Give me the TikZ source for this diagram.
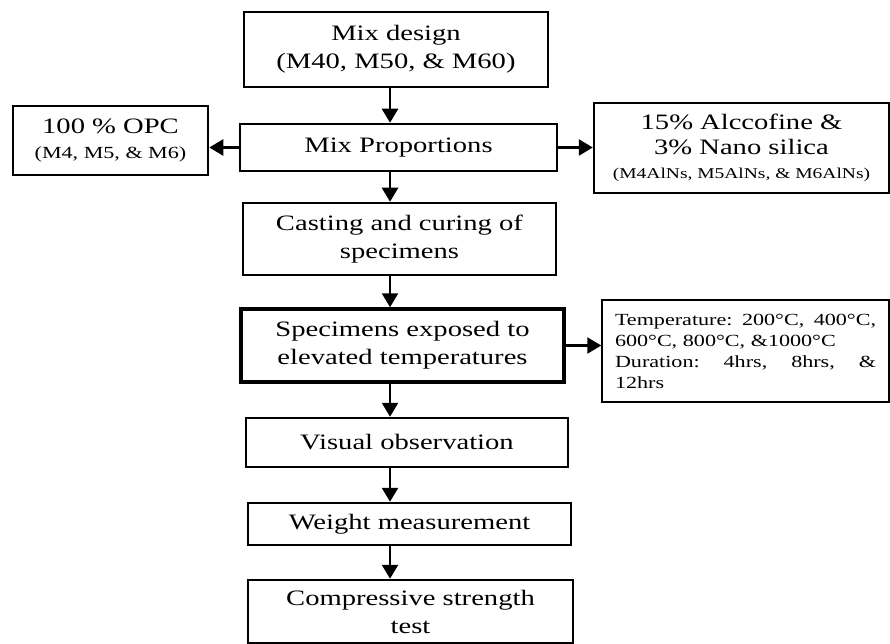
\documentclass[tikz,border=0pt]{standalone}
\usepackage{fontspec}
\setmainfont{Liberation Serif}[FakeStretch=1.3]
\usetikzlibrary{arrows.meta}

\begin{document}
\begin{tikzpicture}[x=1pt,y=-1pt]
    \useasboundingbox (0,0) rectangle (890,644);
        \begin{scope}[
            every node/.style={draw=black,line width=2.5pt,inner sep=0pt,align=center,font=\fontsize{22}{28}\selectfont}
        ]
            \node[minimum width=304pt,minimum height=75pt] (MD) at (396,49.5) {Mix design\\(M40, M50, \& M60)};
            \node[minimum width=317pt,minimum height=47pt] (MP) at (398.5,147.5) {Mix Proportions};
            \node[minimum width=195pt,minimum height=69pt] (OPC) at (110.5,140.5) {100 \% OPC\\[-3pt]{\fontsize{17}{22}\selectfont (M4, M5, \& M6)}};
            \node[minimum width=295pt,minimum height=90pt] (ALC) at (741.5,148) {15\% Alccofine \&\\[-3pt]3\% Nano silica\\[-4pt]{\fontsize{15}{20}\selectfont (M4AlNs, M5AlNs, \& M6AlNs)}};
            \node[minimum width=313pt,minimum height=72pt] (CC) at (399.5,239) {Casting and curing of\\specimens};
            \node[minimum width=323pt,minimum height=73pt,line width=3.5pt] (SE) at (402.5,345.5) {Specimens exposed to\\elevated temperatures};
            \node[minimum width=287pt,minimum height=102pt,line width=1.5pt,inner xsep=13pt,text width=261pt,align=left,font=\fontsize{17}{21}\selectfont] (TD) at (745.5,351)
                {\makebox[261pt][l]{Temperature:\hfill 200°C,\hfill 400°C,}\\600°C, 800°C, \&1000°C\\\makebox[261pt][l]{Duration:\hfill 4hrs,\hfill 8hrs,\hfill \&}\\12hrs};
            \node[minimum width=322pt,minimum height=49pt] (VO) at (407,442.5) {Visual observation};
            \node[minimum width=323pt,minimum height=42pt] (WM) at (409.5,524) {Weight measurement};
            \node[minimum width=325pt,minimum height=63pt] (CS) at (410.5,611.5) {Compressive strength\\test};
        \end{scope}
        \begin{scope}[
            every edge/.style={draw=black,line width=2.5pt,-{Triangle[length=14pt,width=16pt]}}
        ]
            \coordinate (col) at (390,0);
            \path (MD.south -| col) edge (MP.north -| col);
            \path (MP.south -| col) edge (CC.north -| col);
            \path (CC.south -| col) edge (SE.north -| col);
            \path (SE.south -| col) edge (VO.north -| col);
            \path (VO.south -| col) edge (WM.north -| col);
            \path (WM.south -| col) edge (CS.north -| col);

            \path (MP.west) edge (MP.west -| OPC.east);
            \path (MP.east) edge (MP.east -| ALC.west);
            \path (SE.east) edge (SE.east -| TD.west);
        \end{scope}
\end{tikzpicture}
\end{document}
